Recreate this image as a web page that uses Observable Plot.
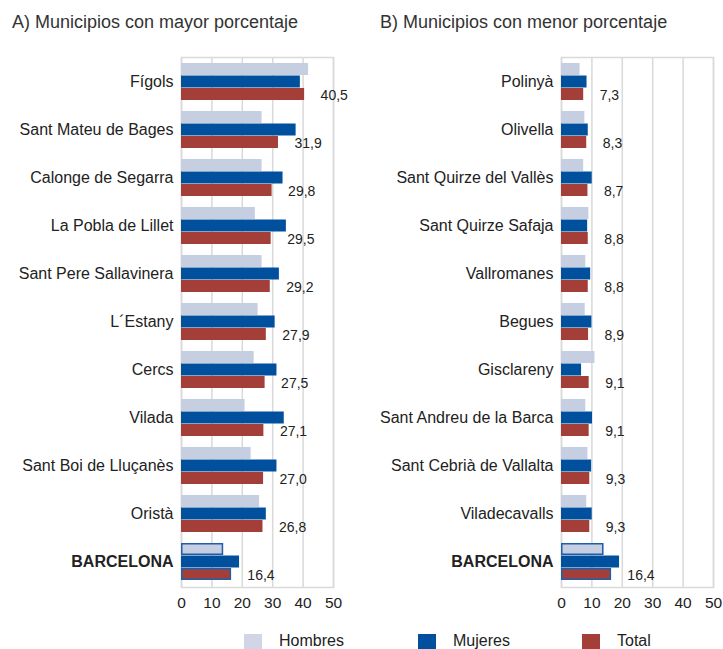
<!DOCTYPE html>
<html>
<head>
<meta charset="utf-8">
<script src="https://cdn.jsdelivr.net/npm/d3@7"></script>
<script src="https://cdn.jsdelivr.net/npm/@observablehq/plot@0.6"></script>
<style>
  body { margin: 0; background: #fff; font-family: "Liberation Sans", Arial, sans-serif; }
  #wrap { position: relative; width: 723px; height: 649px; overflow: hidden; }
  .title { position: absolute; top: 12px; font-size: 18px; color: #333; white-space: nowrap; }
  .panel { position: absolute; top: 40px; }
  .panel svg { overflow: visible; }
  #legend { position: absolute; top: 632px; left: 0; width: 723px; font-size: 16px; color: #222; }
  .li { position: absolute; top: 0; }
  .sw { position: absolute; top: 2px; width: 18px; height: 16px; }
  .lt { position: absolute; top: 0; white-space: nowrap; }
</style>
</head>
<body>
<div id="wrap">
  <div class="title" style="left:12px">A) Municipios con mayor porcentaje</div>
  <div class="title" style="left:380px">B) Municipios con menor porcentaje</div>
  <div class="panel" id="pa" style="left:0px"></div>
  <div class="panel" id="pb" style="left:380px"></div>
  <div id="legend">
    <div class="li" style="left:244px"><div class="sw" style="background:#d2d5e5"></div><div class="lt" style="left:35px">Hombres</div></div>
    <div class="li" style="left:418px"><div class="sw" style="background:#00509e"></div><div class="lt" style="left:35px">Mujeres</div></div>
    <div class="li" style="left:582px"><div class="sw" style="background:#a33f38"></div><div class="lt" style="left:35px">Total</div></div>
  </div>
</div>
<script>
// Panel A data
const munA = ["Fígols","Sant Mateu de Bages","Calonge de Segarra","La Pobla de Lillet","Sant Pere Sallavinera","L´Estany","Cercs","Vilada","Sant Boi de Lluçanès","Oristà","BARCELONA"];
const hombresA = [41.8,26.5,26.5,24.3,26.5,25.2,23.9,20.9,22.9,25.7,13.8];
const mujeresA = [39.1,37.7,33.4,34.5,32.2,30.8,31.4,33.8,31.4,27.9,19.1];
const totalA   = [40.5,31.9,29.8,29.5,29.2,27.9,27.5,27.1,27.0,26.8,16.4];

// Panel B data
const munB = ["Polinyà","Olivella","Sant Quirze del Vallès","Sant Quirze Safaja","Vallromanes","Begues","Gisclareny","Sant Andreu de la Barca","Sant Cebrià de Vallalta","Viladecavalls","BARCELONA"];
const hombresB = [6.1,7.7,7.3,9.0,8.0,7.8,11.0,8.0,8.7,8.3,13.9];
const mujeresB = [8.4,8.8,10.1,8.6,9.6,10.0,6.6,10.2,9.9,10.1,19.1];
const totalB   = [7.3,8.3,8.7,8.8,8.8,8.9,9.1,9.1,9.3,9.3,16.4];

const xTicks = [0,10,20,30,40,50];
const colors = {Hombres: "#c6cee1", Mujeres: "#00509e", Total: "#a33f38"};
const highlight = "BARCELONA";

function panel(cats, h, m, t) {
  const rows = cats.map((c, i) => ({c, h: h[i], m: m[i], t: t[i]}));
  const height = 577, mt = 17, mb = 30;
  const pin = 0.22, pout = 0.12;
  const step = (height - mt - mb) / (cats.length - pin + 2 * pout);
  const bw = step * (1 - pin);
  const third = bw / 3;
  const fmt = v => v.toFixed(1).replace(".", ",");
  const bar = (key, color, k) => Plot.barX(rows, {
    x: key, y: "c", fill: color,
    insetTop: third * k, insetBottom: third * (2 - k)
  });
  const outline = (key, k) => Plot.barX(rows.filter(r => r.c === highlight), {
    x: key, y: "c", fill: "none", stroke: "#1f5ea8", strokeWidth: 1.5,
    insetTop: third * k + 0.75, insetBottom: third * (2 - k) + 0.75, insetRight: 0.5, insetLeft: 0.75
  });
  const svg = Plot.plot({
    width: 343, height,
    marginLeft: 181, marginRight: 10, marginTop: mt, marginBottom: mb,
    style: {fontFamily: "'Liberation Sans', Arial, sans-serif", color: "#222", background: "#fff", overflow: "visible"},
    x: {domain: [0, 50], ticks: xTicks, grid: false},
    y: {domain: cats, paddingInner: pin, paddingOuter: pout},
    marks: [
      Plot.ruleX(xTicks, {stroke: "#d9d9d9", strokeWidth: 1.5}),
      Plot.frame({stroke: "#d9d9d9", strokeWidth: 1.5}),
      bar("h", colors.Hombres, 0),
      bar("m", colors.Mujeres, 1),
      bar("t", colors.Total, 2),
      outline("h", 0),
      outline("t", 2),
      Plot.text(rows, {x: "t", y: "c", text: d => fmt(d.t), dx: 16, dy: third + 1, textAnchor: "start", fontSize: 14, fill: "#222"}),
      Plot.axisX(xTicks, {tickSize: 0, tickPadding: 9, fontSize: 15.5, label: null}),
      Plot.axisY({tickSize: 0, tickPadding: 8, fontSize: 16, label: null})
    ]
  });
  d3.select(svg).selectAll("text").filter(function() { return this.textContent === highlight; })
    .style("font-weight", "bold");
  return svg;
}

document.getElementById("pa").appendChild(panel(munA, hombresA, mujeresA, totalA));
document.getElementById("pb").appendChild(panel(munB, hombresB, mujeresB, totalB));
</script>
</body>
</html>
